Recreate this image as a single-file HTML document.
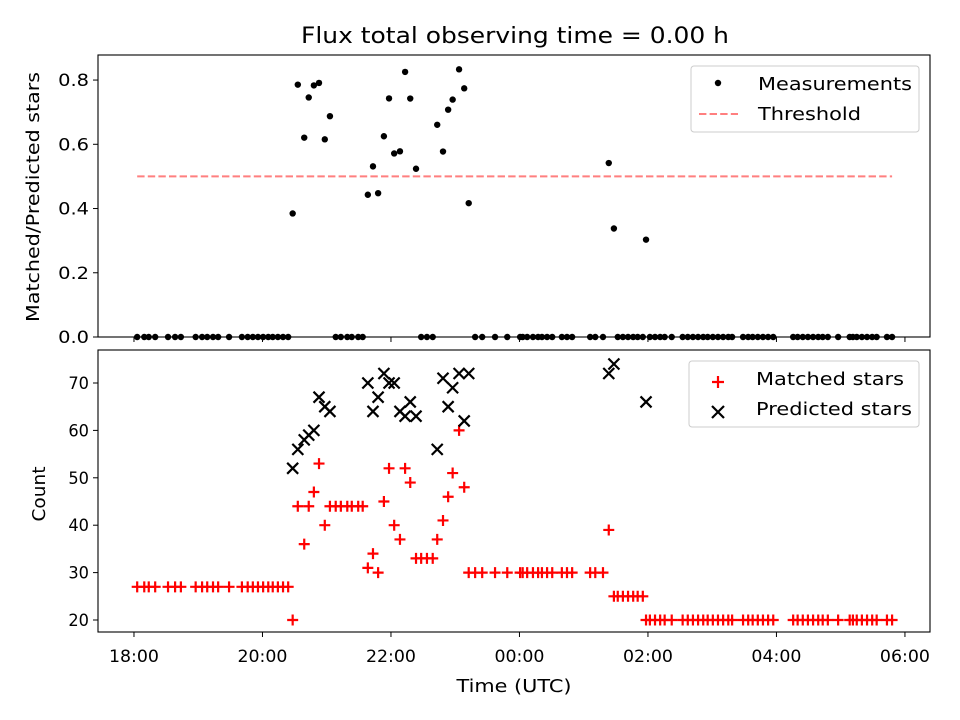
<!DOCTYPE html>
<html><head><meta charset="utf-8"><style>
body{margin:0;background:#fff;}
svg{display:block;font-family:"DejaVu Sans","Liberation Sans",sans-serif;}
</style></head><body>
<svg id="fig" width="960" height="720" viewBox="0 0 960 720" xmlns="http://www.w3.org/2000/svg">
<rect width="960" height="720" fill="#fff"/>
<text x="515" y="43" font-size="22" text-anchor="middle" textLength="428" lengthAdjust="spacingAndGlyphs">Flux total observing time = 0.00 h</text>
<g id="topPanel"></g>
<g id="botPanel"></g>
</svg>
<script>
// hours since 18:00 UTC
const times = [0.05,0.16,0.23,0.33,0.53,0.64,0.73,0.96,1.06,1.14,1.23,1.31,1.48,1.68,1.77,1.85,1.93,2.01,2.09,2.16,2.24,2.32,2.40,
2.47,2.55,2.65,2.72,2.80,2.88,2.97,3.05,3.14,3.22,3.32,3.39,3.49,3.56,
3.64,3.72,3.80,3.89,3.97,4.05,4.14,4.22,4.30,4.39,4.47,4.56,4.65,4.72,4.81,4.89,4.96,5.06,5.14,5.21,
5.31,5.42,5.62,5.81,6.01,6.05,6.12,6.21,6.29,6.35,6.43,6.51,6.66,6.74,6.82,7.10,7.18,7.30,
7.39,7.47,7.53,7.61,7.69,7.77,7.84,7.92,
7.97,8.03,8.11,8.19,8.26,8.37,8.54,8.62,8.70,8.78,8.86,8.93,9.01,9.09,9.17,9.25,9.31,9.48,9.56,9.63,9.71,9.79,9.87,9.95,
10.26,10.33,10.41,10.49,10.57,10.65,10.72,10.80,10.96,11.14,11.19,11.25,11.33,11.41,11.49,11.56,11.72,11.80];
const matched = [27,27,27,27,27,27,27,27,27,27,27,27,27,27,27,27,27,27,27,27,27,27,27,
20,44,36,44,47,53,40,44,44,44,44,44,44,44,
31,34,30,45,52,40,37,52,49,33,33,33,33,37,41,46,51,60,48,30,
30,30,30,30,30,30,30,30,30,30,30,30,30,30,30,30,30,30,
39,25,25,25,25,25,25,25,
20,20,20,20,20,20,20,20,20,20,20,20,20,20,20,20,20,20,20,20,20,20,20,20,
20,20,20,20,20,20,20,20,20,20,20,20,20,20,20,20,20,20];
const N = null;
const predicted = [N,N,N,N,N,N,N,N,N,N,N,N,N,N,N,N,N,N,N,N,N,N,N,
52,56,58,59,60,67,65,64,N,N,N,N,N,N,
70,64,67,72,70,70,64,63,66,63,N,N,N,56,71,65,69,72,62,72,
N,N,N,N,N,N,N,N,N,N,N,N,N,N,N,N,N,N,
72,74,N,N,N,N,N,N,
66,N,N,N,N,N,N,N,N,N,N,N,N,N,N,N,N,N,N,N,N,N,N,N,
N,N,N,N,N,N,N,N,N,N,N,N,N,N,N,N,N,N];
const threshold = 0.5;
const xTickLabels = ["18:00","20:00","22:00","00:00","02:00","04:00","06:00"];
const xTickHours = [0,2,4,6,8,10,12];
const topTicks = [0.0,0.2,0.4,0.6,0.8];
const botTicks = [20,30,40,50,60,70];

const NS="http://www.w3.org/2000/svg";
function mk(p,tag,attrs){const e=document.createElementNS(NS,tag);for(const k in attrs)e.setAttribute(k,attrs[k]);p.appendChild(e);return e;}
const L=98,R=930;
const xMin=-0.56,xMax=12.39;
const X=h=>L+(h-xMin)/(xMax-xMin)*(R-L);
const T0=55,T1=337,B0=350,B1=632;
const Yt=v=>T1-(v-0)/(0.878-0)*(T1-T0);
const Yb=v=>B1-(v-17.47)/(76.96-17.47)*(B1-B0);
const topG=document.getElementById('topPanel'),botG=document.getElementById('botPanel');

const th=mk(topG,'line',{x1:X(times[0]),x2:X(times[times.length-1]),y1:Yt(threshold),y2:Yt(threshold),stroke:'#ff7f7f','stroke-width':2,'stroke-dasharray':'7.4,3.2'});



times.forEach((t,i)=>{
  const r=predicted[i]?matched[i]/predicted[i]:0;
  const c=mk(topG,'circle',{cx:X(t),cy:Yt(r),r:3.2,fill:'#000'});
  
  
});
times.forEach((t,i)=>{
  const x=X(t),y=Yb(matched[i]);
  const g=mk(botG,'path',{d:`M${x-5.5},${y}H${x+5.5}M${x},${y-5.5}V${y+5.5}`,stroke:'#ff0000','stroke-width':2.2,fill:'none'});
  
  
});
times.forEach((t,i)=>{
  if(predicted[i]==null)return;
  const x=X(t),y=Yb(predicted[i]),s=5.5;
  const g=mk(botG,'path',{d:`M${x-s},${y-s}L${x+s},${y+s}M${x-s},${y+s}L${x+s},${y-s}`,stroke:'#000','stroke-width':2.2,fill:'none'});
  
  
});

function axes(p,y0,y1,ticks,Y,fmt,showX){
  const f=mk(p,'rect',{x:L,y:y0,width:R-L,height:y1-y0,fill:'none',stroke:'#000','stroke-width':1.1});
  
  
  ticks.forEach(v=>{
    const y=Y(v);
    mk(p,'line',{x1:L-5,x2:L,y1:y,y2:y,stroke:'#000','stroke-width':1});
    const s=fmt(v);
    const tx=mk(p,'text',{x:L-9,y:y+6,'font-size':17,'text-anchor':'end',textLength:s.length*10.3,lengthAdjust:'spacingAndGlyphs'});
    tx.textContent=s;
    
    
  });
  xTickHours.forEach((h,i)=>{
    const x=X(h);
    mk(p,'line',{x1:x,x2:x,y1:y1,y2:y1+5,stroke:'#000','stroke-width':1});
    if(showX){
      const tx=mk(p,'text',{x:x,y:y1+30,'font-size':17,'text-anchor':'middle',textLength:50,lengthAdjust:'spacingAndGlyphs'});
      tx.textContent=xTickLabels[i];
      
      
    }
  });
}
axes(topG,T0,T1,topTicks,Yt,v=>v.toFixed(1),false);
axes(botG,B0,B1,botTicks,Yb,v=>String(v),true);
</script>
<script>
const svgEl=document.getElementById('fig');
function add(tag,attrs,txt,name){const e=document.createElementNS("http://www.w3.org/2000/svg",tag);for(const k in attrs)e.setAttribute(k,attrs[k]);if(txt)e.textContent=txt;svgEl.appendChild(e);


return e;}
add('text',{x:39,y:197,'font-size':18,'text-anchor':'middle',transform:'rotate(-90 39 197)',textLength:250,lengthAdjust:'spacingAndGlyphs'},'Matched/Predicted stars','top-y-axis-title');
add('text',{x:45,y:494,'font-size':18,'text-anchor':'middle',transform:'rotate(-90 45 494)',textLength:55,lengthAdjust:'spacingAndGlyphs'},'Count','bottom-y-axis-title');
add('text',{x:514,y:692,'font-size':18,'text-anchor':'middle',textLength:115,lengthAdjust:'spacingAndGlyphs'},'Time (UTC)','x-axis-title');
add('rect',{x:691,y:66,width:228,height:66,rx:3,fill:'#fff',stroke:'#ccc','stroke-width':1},null,'top-legend');
add('circle',{cx:718,cy:83,r:3.2,fill:'#000'},null,'legend-measurements-marker');
add('text',{x:758,y:90,'font-size':18,textLength:154,lengthAdjust:'spacingAndGlyphs'},'Measurements','legend-measurements-label');
add('line',{x1:699,x2:738,y1:114,y2:114,stroke:'#ff7f7f','stroke-width':2,'stroke-dasharray':'7.4,3.2'},null,'legend-threshold-line');
add('text',{x:758,y:120,'font-size':18,textLength:103,lengthAdjust:'spacingAndGlyphs'},'Threshold','legend-threshold-label');
add('rect',{x:689,y:361,width:230,height:66,rx:3,fill:'#fff',stroke:'#ccc','stroke-width':1},null,'bottom-legend');
add('path',{d:'M712,382H724M718,376V388',stroke:'#ff0000','stroke-width':2.2},null,'legend-matched-marker');
add('text',{x:756,y:385,'font-size':18,textLength:148,lengthAdjust:'spacingAndGlyphs'},'Matched stars','legend-matched-label');
add('path',{d:'M712,406L724,418M712,418L724,406',stroke:'#000','stroke-width':2.2},null,'legend-predicted-marker');
add('text',{x:756,y:415,'font-size':18,textLength:156,lengthAdjust:'spacingAndGlyphs'},'Predicted stars','legend-predicted-label');
</script>
</body></html>
